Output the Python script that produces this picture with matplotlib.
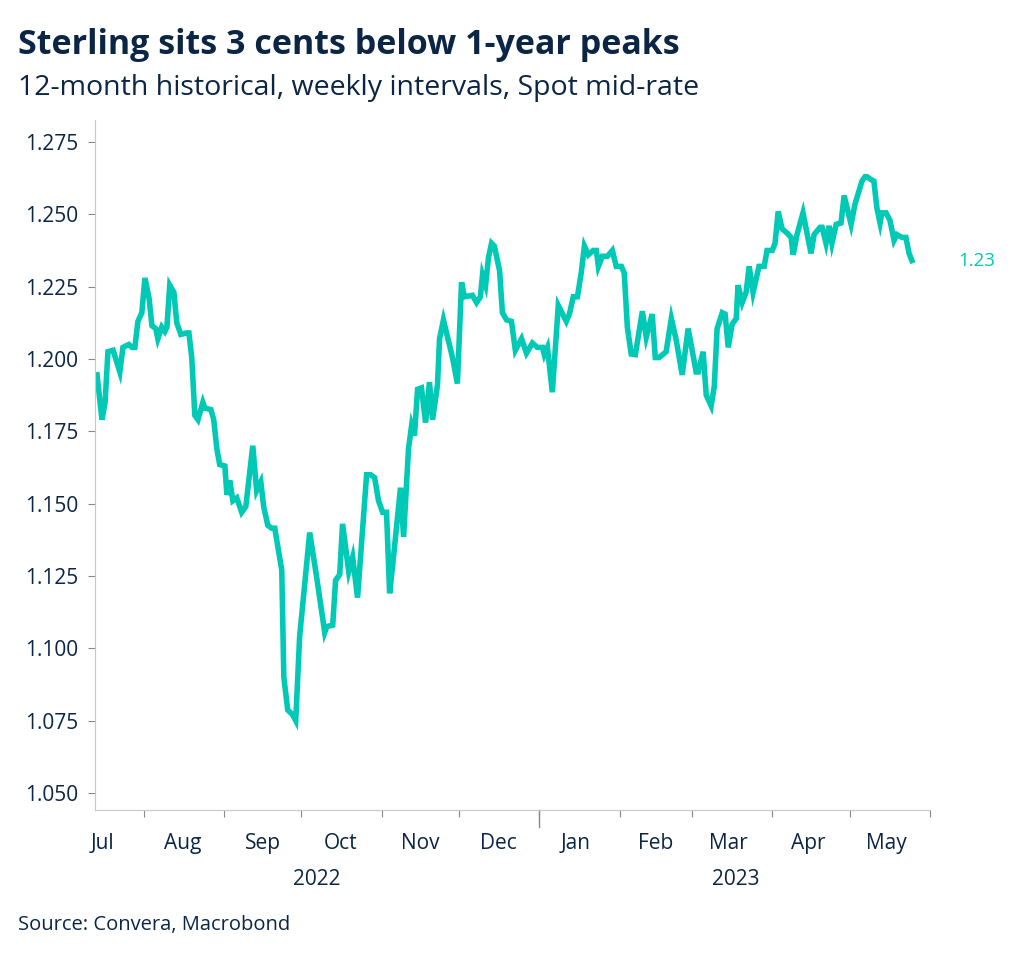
import matplotlib
matplotlib.use("Agg")
import matplotlib.pyplot as plt
import matplotlib.dates as mdates
import numpy as np
import datetime as dt

plt.rcParams['font.family'] = ['Open Sans', 'DejaVu Sans']

# days relative to 2023-01-01
days = [-171.0,-169.1,-167.9,-166.8,-164.8,-162.2,-161.0,-158.7,-157.5,-156.4,-155.2,-153.7,-152.5,-150.9,-149.8,-148.3,-147.5,-146.0,-144.8,-144.0,-142.9,-141.3,-140.2,-138.6,-136.3,-135.5,-134.4,-133.2,-132.0,-130.1,-129.3,-127.0,-125.9,-124.7,-123.6,-121.6,-120.8,-119.7,-118.5,-117.0,-115.1,-113.5,-112.4,-110.8,-109.3,-107.7,-106.6,-105.0,-103.5,-102.3,-99.6,-98.8,-97.3,-95.4,-94.2,-92.7,-88.8,-86.1,-83.0,-82.2,-79.9,-78.8,-77.2,-76.1,-73.7,-72.2,-70.3,-66.8,-65.3,-63.7,-62.2,-60.6,-59.1,-57.9,-56.8,-53.7,-52.5,-50.6,-49.4,-48.3,-47.1,-45.6,-44.0,-42.5,-41.3,-39.4,-38.6,-37.1,-33.6,-31.7,-30.1,-29.0,-25.9,-24.3,-22.8,-22.0,-20.8,-19.7,-18.5,-17.4,-15.4,-14.3,-12.7,-10.8,-9.3,-6.9,-5.0,-2.7,-0.8,1.2,1.9,3.1,5.0,7.3,10.4,11.6,13.1,14.7,16.2,17.4,18.9,20.8,22.0,22.8,24.3,26.3,28.2,29.7,31.7,32.8,34.0,35.5,37.1,39.8,41.3,43.6,44.8,46.3,49.0,51.0,52.9,55.2,57.5,60.6,61.4,63.3,64.5,66.4,67.6,68.7,70.7,71.8,73.0,74.5,76.1,76.8,78.4,79.9,81.1,82.6,84.9,86.9,88.0,90.0,91.1,92.3,93.8,95.8,97.3,98.1,99.6,101.9,105.0,106.2,108.5,109.3,110.8,112.0,113.1,114.7,116.6,117.8,120.5,122.0,124.7,125.9,126.6,128.2,129.3,130.5,131.7,132.4,134.0,135.5,137.1,138.2,140.2,141.7,142.9,144.0]
rate = [1.1945,1.179,1.185,1.2025,1.203,1.1955,1.204,1.205,1.204,1.204,1.213,1.216,1.228,1.221,1.2115,1.2105,1.207,1.211,1.2095,1.211,1.2255,1.223,1.2125,1.2085,1.209,1.209,1.2005,1.1805,1.179,1.185,1.183,1.1825,1.179,1.169,1.1635,1.163,1.153,1.158,1.151,1.152,1.147,1.149,1.1575,1.170,1.1545,1.1575,1.149,1.1425,1.1415,1.1415,1.127,1.090,1.0787,1.077,1.075,1.104,1.140,1.1245,1.1055,1.1075,1.108,1.1235,1.1255,1.143,1.1265,1.1315,1.1175,1.160,1.160,1.159,1.151,1.147,1.147,1.119,1.128,1.1555,1.1385,1.169,1.177,1.1735,1.1895,1.190,1.178,1.192,1.179,1.191,1.207,1.2135,1.2005,1.1915,1.2265,1.2215,1.222,1.2195,1.2215,1.229,1.2255,1.235,1.240,1.239,1.2305,1.216,1.2135,1.213,1.203,1.207,1.202,1.2055,1.204,1.204,1.2015,1.204,1.1885,1.2185,1.213,1.2155,1.2215,1.2215,1.230,1.239,1.236,1.2375,1.2375,1.232,1.2355,1.2355,1.2375,1.232,1.232,1.2297,1.211,1.2017,1.2015,1.2165,1.2075,1.2155,1.2005,1.2005,1.2025,1.214,1.2065,1.1945,1.2105,1.1955,1.1955,1.2025,1.1875,1.1838,1.1905,1.2105,1.216,1.2155,1.204,1.212,1.214,1.2255,1.2195,1.223,1.232,1.223,1.232,1.232,1.2375,1.2375,1.240,1.251,1.245,1.2435,1.242,1.236,1.243,1.2505,1.2365,1.243,1.2455,1.2455,1.240,1.246,1.240,1.2465,1.247,1.2565,1.2465,1.2535,1.2615,1.263,1.263,1.262,1.2615,1.252,1.247,1.2505,1.2505,1.248,1.241,1.243,1.242,1.242,1.2365,1.234]
months = ['Jul','Aug','Sep','Oct','Nov','Dec','Jan','Feb','Mar','Apr','May']
years = ['2022','2023']
yticks = [1.050,1.075,1.100,1.125,1.150,1.175,1.200,1.225,1.250,1.275]

NAVY = '#0b2545'
TEAL = '#00c9b5'
base = dt.date(2023,1,1)
dates = [mdates.date2num(base) + d for d in days]

fig = plt.figure(figsize=(10.24,9.58), dpi=100)
ax = fig.add_axes([95/1024, 1-810/958, (930-95)/1024, (810-120)/958])
ax.plot(dates, rate, color=TEAL, lw=4, solid_joinstyle='miter')
ax.set_xlim(mdates.date2num(base)-171.8, mdates.date2num(base)+150.6)
ax.set_ylim(1.0441, 1.2826)
ax.set_yticks(yticks)
ax.set_yticklabels([f'{v:.3f}' for v in yticks], fontsize=15, color=NAVY)
for s in ['top','right']:
    ax.spines[s].set_visible(False)
for s in ['left','bottom']:
    ax.spines[s].set_color('#c8c8c8')
ax.tick_params(axis='y', length=5, color='#888888', pad=7)
starts = [dt.date(2022,m,1) for m in range(8,13)] + [dt.date(2023,m,1) for m in range(1,7)]
ax.set_xticks([mdates.date2num(d) for d in starts])
ax.set_xticklabels([])
ax.tick_params(axis='x', length=5, color='#888888')
jan = mdates.date2num(dt.date(2023,1,1))
ax.plot([jan, jan], [0, -0.025], transform=ax.get_xaxis_transform(), color='#888888', lw=1, clip_on=False)
mids = [dt.date(2022,7,16)] + [dt.date(2022,m,16) for m in range(8,13)] + [dt.date(2023,m,15) for m in range(1,6)]
for lab, d in zip(months, mids):
    ax.text(mdates.date2num(d), -0.033, lab, transform=ax.get_xaxis_transform(), ha='center', va='top', fontsize=15, color=NAVY)
ax.text(mdates.date2num(dt.date(2022,10,7)), -0.085, years[0], transform=ax.get_xaxis_transform(), ha='center', va='top', fontsize=15, color=NAVY)
ax.text(mdates.date2num(dt.date(2023,3,18)), -0.085, years[1], transform=ax.get_xaxis_transform(), ha='center', va='top', fontsize=15, color=NAVY)
ax.text(dates[-1]+18, rate[-1], f'{round(rate[-1],2):.2f}', color=TEAL, fontsize=13.5, va='center', ha='left')

fig.text(18/1024, 1-45/958, 'Sterling sits 3 cents below 1-year peaks', fontsize=24.5, fontweight='bold', color=NAVY, va='center')
fig.text(18/1024, 1-88/958, '12-month historical, weekly intervals, Spot mid-rate', fontsize=20.5, color=NAVY, va='center')
fig.text(18/1024, 1-925/958, 'Source: Convera, Macrobond', fontsize=14.5, color=NAVY, va='center')
fig.savefig('out.png', dpi=100)
